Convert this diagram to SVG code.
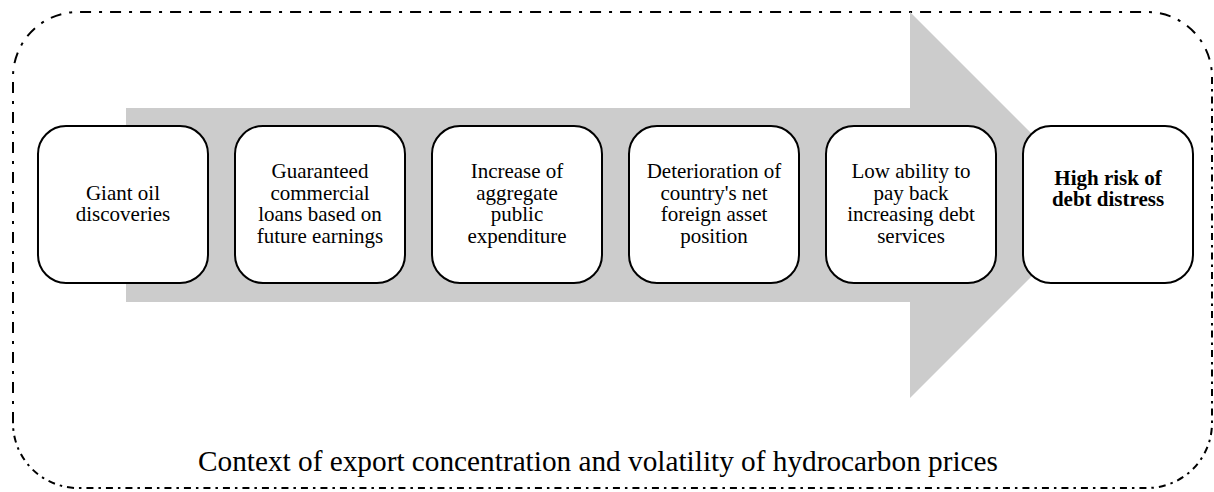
<svg xmlns="http://www.w3.org/2000/svg" width="1214" height="492" viewBox="0 0 1214 492">
<style>
.bg{fill:#ffffff}
.frame{fill:none;stroke:#000;stroke-width:2}
.fa{stroke-dasharray:11 8 3 8}
.fb{stroke-dasharray:7 5 2.5 5}
.arrow{fill:#cccccc;stroke:none}
.box{fill:#ffffff;stroke:#000;stroke-width:2}
.t{font-size:21px;fill:#000;text-anchor:middle}
.b{font-weight:bold}
.ctx{font-size:29px;fill:#000}
</style>
<rect class="bg" x="0" y="0" width="1214" height="492"/>
<g id="frame">
<path class="frame fa" d="M13,423 L13,77 A65,65 0 0 1 78,12 L1147,12 A65,65 0 0 1 1212,77"/>
<path class="frame fb" d="M1212,77 L1212,423 A65,65 0 0 1 1147,488 L78,488 A65,65 0 0 1 13,423"/>
</g>
<g id="connectors">
<polygon class="arrow" points="126,108 910,108 910,12 1103,205 910,398 910,302 126,302"/>
</g>
<g font-family="'Liberation Serif', 'Times New Roman', Times, serif">
<g id="n1">
<rect class="box" x="38" y="126" width="170" height="157" rx="28"/>
<text class="t" x="123" y="199.7">Giant oil</text>
<text class="t" x="123" y="221.4">discoveries</text>
</g>
<g id="n2">
<rect class="box" x="235" y="126" width="170" height="157" rx="28"/>
<text class="t" x="320" y="178">Guaranteed</text>
<text class="t" x="320" y="199.7">commercial</text>
<text class="t" x="320" y="221.4">loans based on</text>
<text class="t" x="320" y="243.1">future earnings</text>
</g>
<g id="n3">
<rect class="box" x="432" y="126" width="170" height="157" rx="28"/>
<text class="t" x="517" y="178">Increase of</text>
<text class="t" x="517" y="199.7">aggregate</text>
<text class="t" x="517" y="221.4">public</text>
<text class="t" x="517" y="243.1">expenditure</text>
</g>
<g id="n4">
<rect class="box" x="629" y="126" width="170" height="157" rx="28"/>
<text class="t" x="714" y="178">Deterioration of</text>
<text class="t" x="714" y="199.7">country's net</text>
<text class="t" x="714" y="221.4">foreign asset</text>
<text class="t" x="714" y="243.1">position</text>
</g>
<g id="n5">
<rect class="box" x="826" y="126" width="170" height="157" rx="28"/>
<text class="t" x="911" y="178">Low ability to</text>
<text class="t" x="911" y="199.7">pay back</text>
<text class="t" x="911" y="221.4">increasing debt</text>
<text class="t" x="911" y="243.1">services</text>
</g>
<g id="n6">
<rect class="box" x="1023" y="126" width="170" height="157" rx="28"/>
<text class="t b" x="1108" y="184.5">High risk of</text>
<text class="t b" x="1108" y="206.2">debt distress</text>
</g>
<g id="context">
<text class="ctx" x="198" y="471" textLength="800" lengthAdjust="spacingAndGlyphs">Context of export concentration and volatility of hydrocarbon prices</text>
</g>
</g>
</svg>
